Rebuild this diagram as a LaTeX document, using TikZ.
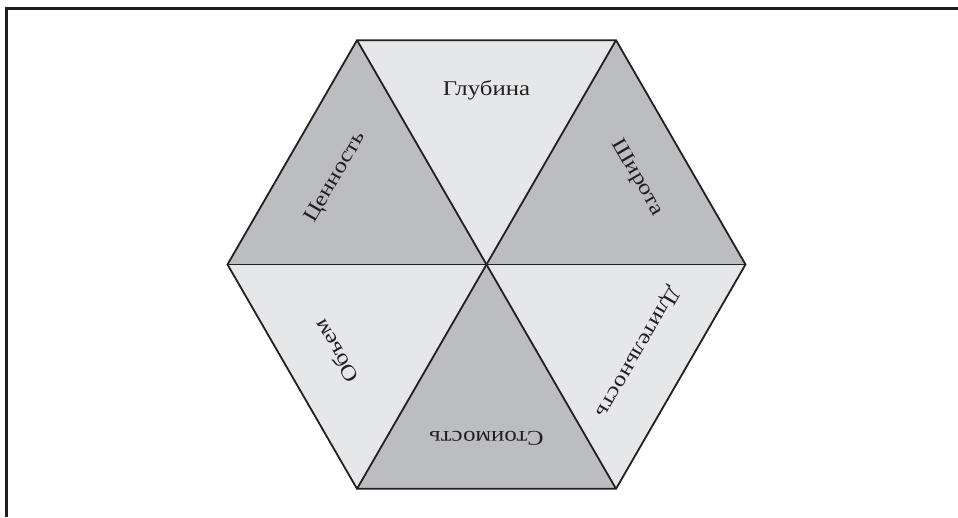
\documentclass[tikz,border=0pt]{standalone}
\usepackage{fontspec}
\setmainfont[FakeStretch=1.18]{Liberation Serif}
\usetikzlibrary{calc}
\definecolor{lightfill}{RGB}{230,231,233}
\definecolor{darkfill}{RGB}{188,189,192}
\definecolor{framecol}{RGB}{35,31,32}
\begin{document}
\begin{tikzpicture}[x=1pt,y=1pt,
  edge/.style={line width=1.8pt,draw=framecol,line join=miter},
  lbl/.style={font=\fontsize{21}{23}\selectfont,text=framecol,inner sep=0pt},
  frameline/.style={line width=2.4pt,draw=framecol}]
\useasboundingbox (0,0) rectangle (958,517);
\coordinate (O) at (486.5,252.5);
\foreach \i in {0,...,5}{
  \coordinate (v\i) at ($(O)+(\i*60:259)$);
}
\fill[lightfill] (O) -- (v1) -- (v2) -- cycle;
\fill[darkfill]  (O) -- (v0) -- (v1) -- cycle;
\fill[lightfill] (O) -- (v5) -- (v0) -- cycle;
\fill[darkfill]  (O) -- (v4) -- (v5) -- cycle;
\fill[lightfill] (O) -- (v3) -- (v4) -- cycle;
\fill[darkfill]  (O) -- (v2) -- (v3) -- cycle;
\draw[edge] (v0) -- (v1) -- (v2) -- (v3) -- (v4) -- (v5) -- cycle;
\draw[edge] (v0) -- (v3);
\draw[edge] (v1) -- (v4);
\draw[edge] (v2) -- (v5);
\node[lbl] (t1) at ($(O)+(90:174)$) {Глубина};
\node[lbl,rotate=-60] (t2) at ($(O)+(30:174)$) {Широта};
\node[lbl,rotate=-120] (t3) at ($(O)+(-30:174)$) {Длительность};
\node[lbl,rotate=180] (t4) at ($(O)+(-90:174)$) {Стоимость};
\node[lbl,rotate=120] (t5) at ($(O)+(-150:174)$) {Объем};
\node[lbl,rotate=60] (t6) at ($(O)+(150:174)$) {Ценность};
\coordinate (f1) at (6.5,0);
\coordinate (f2) at (6.5,508.5);
\coordinate (f3) at (958,508.5);
\draw[frameline] (f1) -- (f2) -- (f3);
\end{tikzpicture}
\end{document}
